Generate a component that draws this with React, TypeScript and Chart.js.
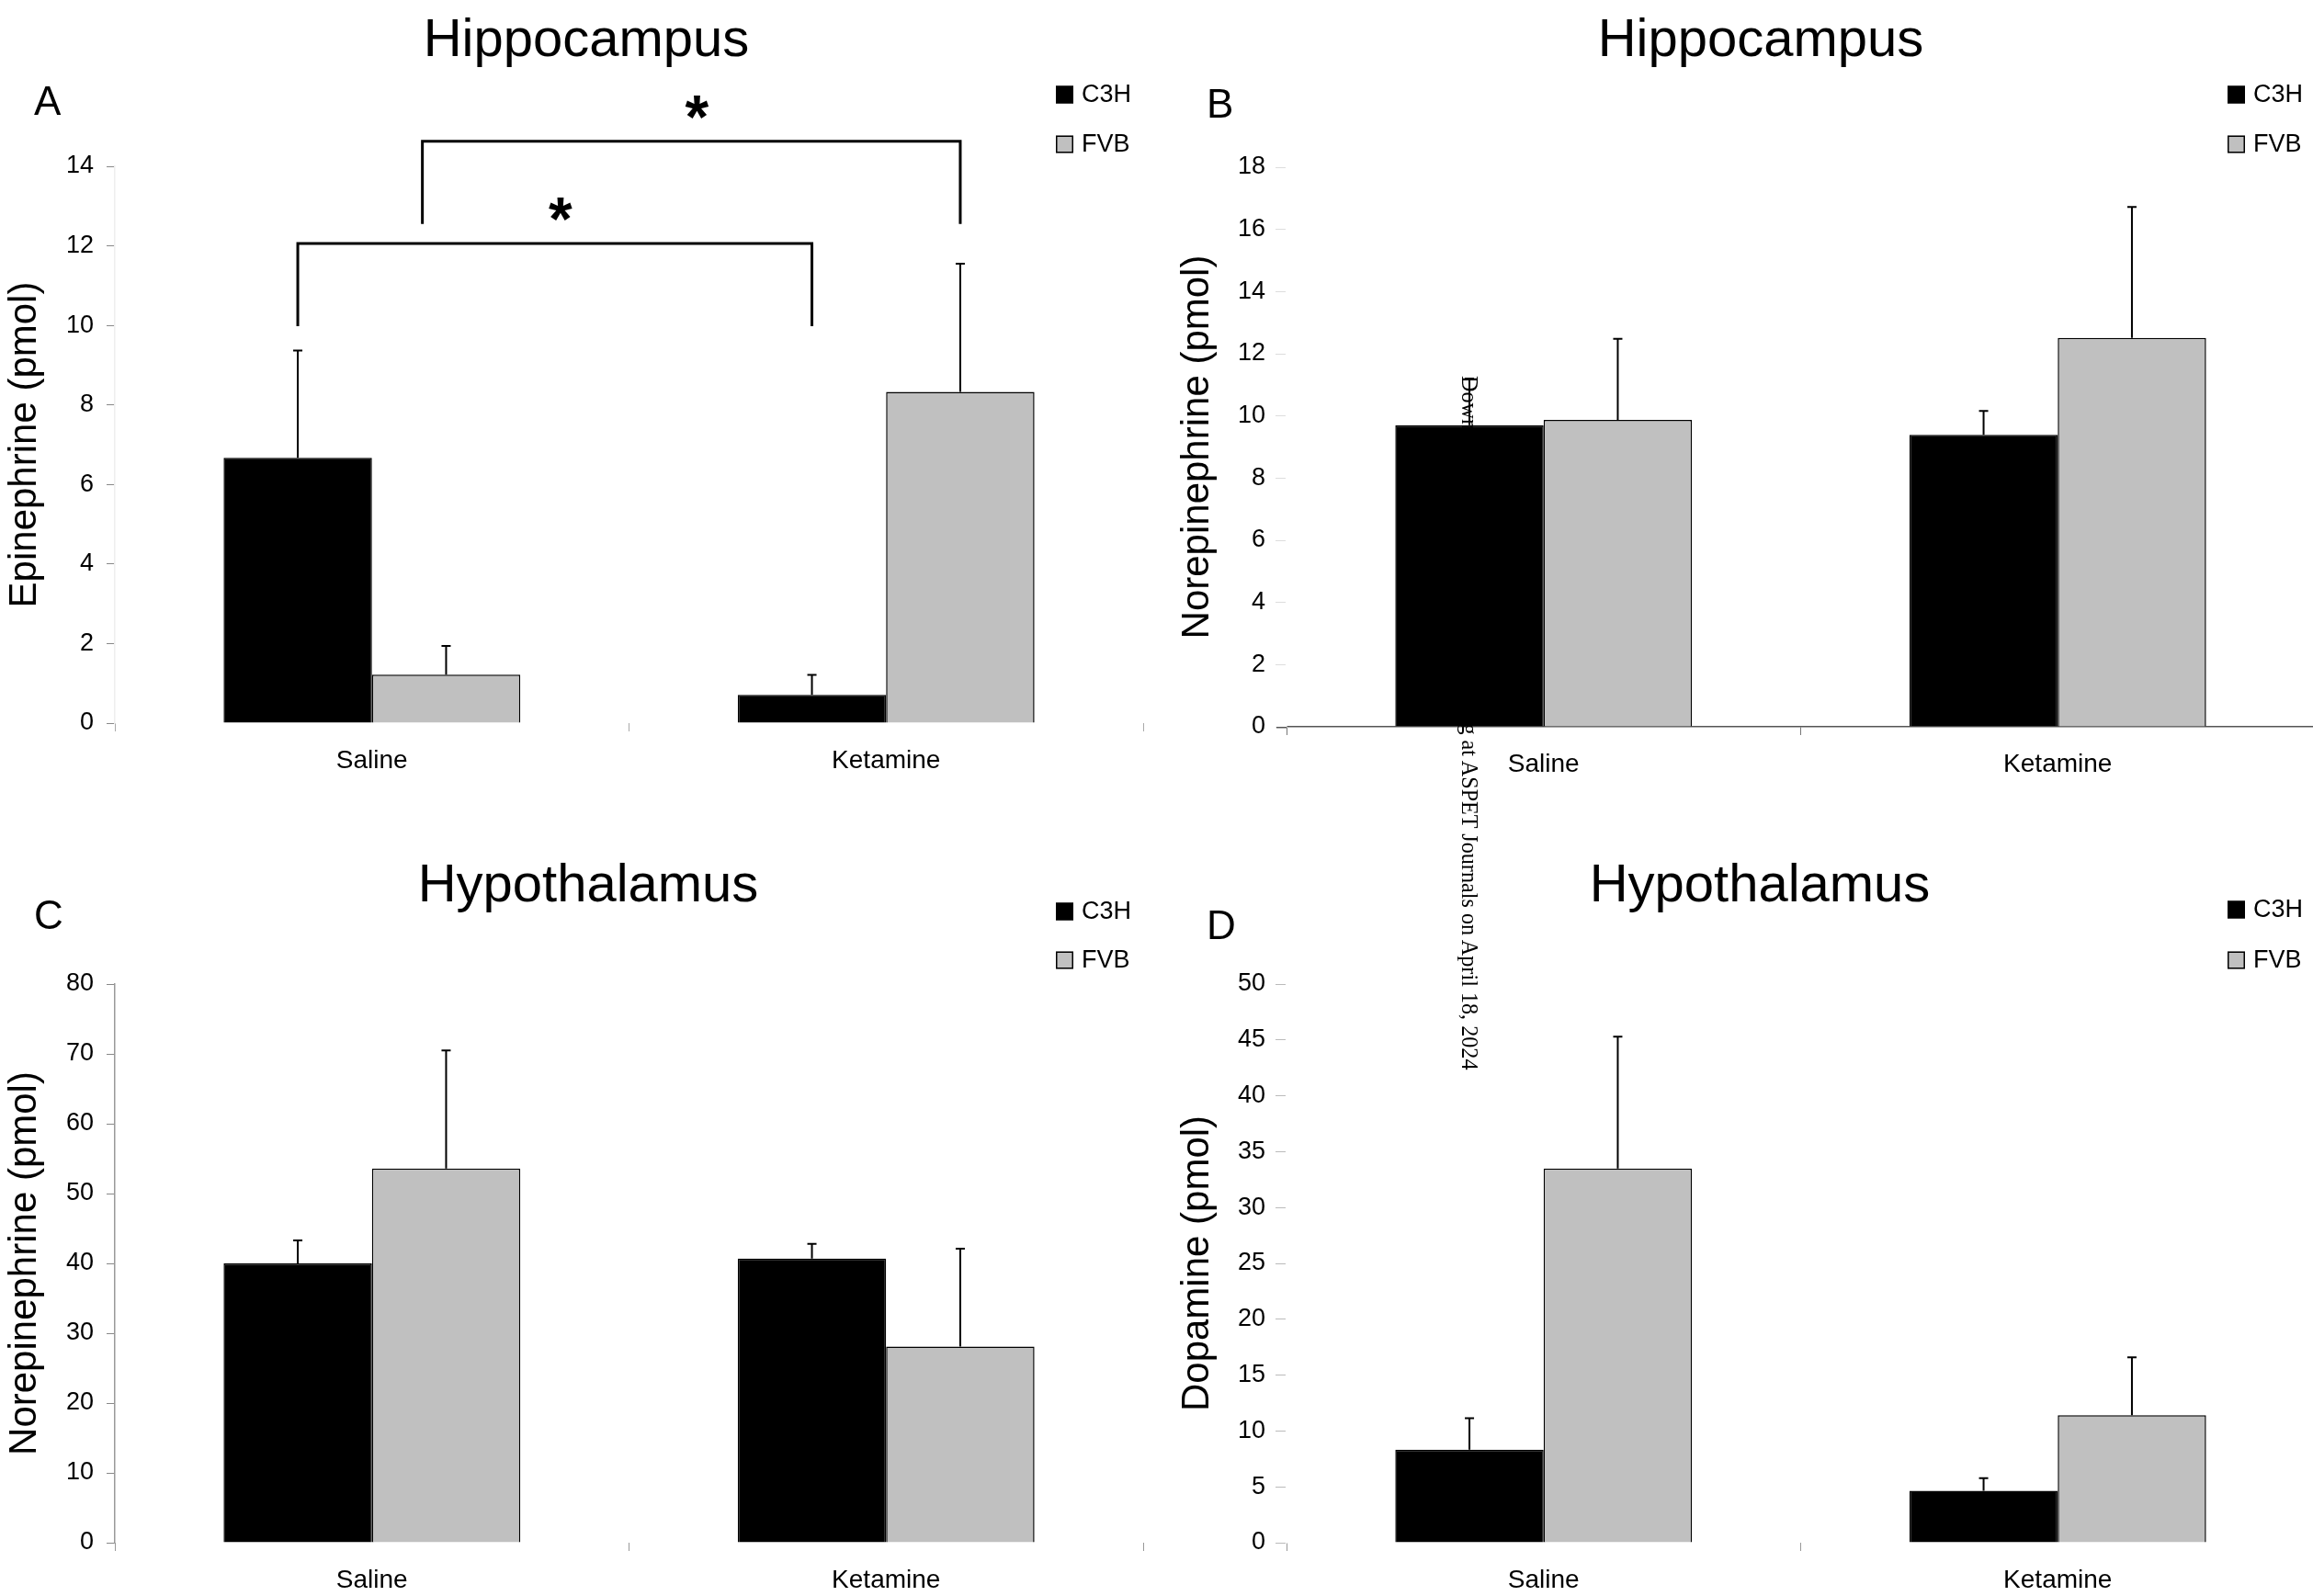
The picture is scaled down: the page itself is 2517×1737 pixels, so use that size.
import React, { useEffect, useRef } from 'react';
import { Chart, registerables } from 'chart.js';

Chart.register(...registerables);

// ---------- data ----------
const categories = ['Saline', 'Ketamine'];
const seriesNames = ['C3H', 'FVB'];

// A: Hippocampus, epinephrine (pmol)
const epiHippoC3H = [6.67, 0.71];
const epiHippoFVB = [1.22, 8.33];
const epiHippoC3HErr = [2.70, 0.50];
const epiHippoFVBErr = [0.72, 3.22];

// B: Hippocampus, norepinephrine (pmol)
const neHippoC3H = [9.70, 9.39];
const neHippoFVB = [9.87, 12.51];
const neHippoC3HErr = [1.50, 0.77];
const neHippoFVBErr = [2.61, 4.21];

// C: Hypothalamus, norepinephrine (pmol)
const neHypoC3H = [40.0, 40.7];
const neHypoFVB = [53.6, 28.1];
const neHypoC3HErr = [3.3, 2.1];
const neHypoFVBErr = [16.9, 14.0];

// D: Hypothalamus, dopamine (pmol)
const daHypoC3H = [8.32, 4.64];
const daHypoFVB = [33.5, 11.41];
const daHypoC3HErr = [2.82, 1.13];
const daHypoFVBErr = [11.8, 5.18];

// significance brackets (panel A): [categoryIndex, datasetIndex]
const sigFrom = [[0, 0], [0, 1]];
const sigTo = [[1, 0], [1, 1]];
const sigTop = [12.06, 14.63];
const sigDrop = [9.98, 12.55];
const sigStar = [12.93, 15.48];
const sigText = ['*', '*'];

const watermark = 'Downloaded from jpet.aspetjournals.org at ASPET Journals on April 18, 2024';

// ---------- styling ----------
const FONT = "'Liberation Sans', Arial, Helvetica, sans-serif";
const C3H_COLOR = '#000000';
const FVB_COLOR = '#c0c0c0';

type PanelCfg = {
  key: string; title: string; letter: string; yTitle: string;
  c3h: number[]; fvb: number[]; c3hErr: number[]; fvbErr: number[];
  yMax: number; yStep: number;
  left: number; top: number; width: number; height: number;
  area: { left: number; top: number; right: number; bottom: number };
  titleX: number; titleBase: number; letterX: number; letterBase: number;
  legendY: number[]; yTitlePad: number; tickLen: number; tickPad: number;
  yBorderColor: string; yTickColor: string; xBorder: boolean; xBorderColor: string; xTickColor: string;
  sig: boolean;
};

const panels: PanelCfg[] = [
  {
    key: 'A', title: 'Hippocampus', letter: 'A', yTitle: 'Epinephrine (pmol)',
    c3h: epiHippoC3H, fvb: epiHippoFVB, c3hErr: epiHippoC3HErr, fvbErr: epiHippoFVBErr,
    yMax: 14, yStep: 2,
    left: 0, top: 0, width: 1258, height: 870,
    area: { left: 125, top: 181, right: 1244, bottom: 787 },
    titleX: 638, titleBase: 61, letterX: 37, letterBase: 125,
    legendY: [103, 157], yTitlePad: 2, tickLen: 9, tickPad: 14,
    yBorderColor: '#eeeeee', yTickColor: '#888888', xBorder: false, xBorderColor: '#ffffff', xTickColor: '#aaaaaa',
    sig: true,
  },
  {
    key: 'B', title: 'Hippocampus', letter: 'B', yTitle: 'Norepinephrine (pmol)',
    c3h: neHippoC3H, fvb: neHippoFVB, c3hErr: neHippoC3HErr, fvbErr: neHippoFVBErr,
    yMax: 18, yStep: 2,
    left: 1258, top: 0, width: 1282, height: 870,
    area: { left: 142, top: 182, right: 1261, bottom: 791 },
    titleX: 658, titleBase: 61, letterX: 55, letterBase: 128,
    legendY: [103, 157], yTitlePad: 20, tickLen: 12, tickPad: 11,
    yBorderColor: '#ffffff', yTickColor: '#dddddd', xBorder: true, xBorderColor: '#555555', xTickColor: '#777777',
    sig: false,
  },
  {
    key: 'C', title: 'Hypothalamus', letter: 'C', yTitle: 'Norepinephrine (pmol)',
    c3h: neHypoC3H, fvb: neHypoFVB, c3hErr: neHypoC3HErr, fvbErr: neHypoFVBErr,
    yMax: 80, yStep: 10,
    left: 0, top: 870, width: 1258, height: 867,
    area: { left: 125, top: 201, right: 1244, bottom: 809 },
    titleX: 640, titleBase: 111, letterX: 37, letterBase: 141,
    legendY: [122, 175], yTitlePad: 2, tickLen: 9, tickPad: 14,
    yBorderColor: '#999999', yTickColor: '#888888', xBorder: false, xBorderColor: '#ffffff', xTickColor: '#999999',
    sig: false,
  },
  {
    key: 'D', title: 'Hypothalamus', letter: 'D', yTitle: 'Dopamine (pmol)',
    c3h: daHypoC3H, fvb: daHypoFVB, c3hErr: daHypoC3HErr, fvbErr: daHypoFVBErr,
    yMax: 50, yStep: 5,
    left: 1258, top: 870, width: 1282, height: 867,
    area: { left: 142, top: 201, right: 1261, bottom: 809 },
    titleX: 657, titleBase: 111, letterX: 55, letterBase: 152,
    legendY: [120, 175], yTitlePad: 20, tickLen: 12, tickPad: 11,
    yBorderColor: '#ffffff', yTickColor: '#bbbbbb', xBorder: false, xBorderColor: '#ffffff', xTickColor: '#999999',
    sig: false,
  },
];

function makeDecor(p: PanelCfg) {
  return {
    id: 'decor' + p.key,
    afterDatasetsDraw(chart: any) {
      const ctx = chart.ctx;
      const yS = chart.scales.y;
      ctx.save();
      ctx.strokeStyle = '#000';
      ctx.lineWidth = 2;
      chart.data.datasets.forEach((ds: any, di: number) => {
        const meta = chart.getDatasetMeta(di);
        meta.data.forEach((bar: any, i: number) => {
          const v = ds.data[i];
          const e = ds.errors[i];
          const yTop = yS.getPixelForValue(v + e);
          ctx.beginPath();
          ctx.moveTo(bar.x, bar.y);
          ctx.lineTo(bar.x, yTop);
          ctx.moveTo(bar.x - 5, yTop);
          ctx.lineTo(bar.x + 5, yTop);
          ctx.stroke();
        });
      });
      ctx.restore();
    },
    afterDraw(chart: any) {
      const ctx = chart.ctx;
      const yS = chart.scales.y;
      const area = chart.chartArea;
      ctx.save();
      // x axis line extends a little left of the plot (panel B)
      if (p.xBorder) {
        ctx.strokeStyle = p.xBorderColor;
        ctx.lineWidth = 1.5;
        ctx.beginPath();
        ctx.moveTo(area.left - 11, area.bottom + 0.75);
        ctx.lineTo(area.left, area.bottom + 0.75);
        ctx.stroke();
      }
      ctx.fillStyle = '#000';
      // title
      ctx.font = `58px ${FONT}`;
      ctx.textAlign = 'center';
      ctx.textBaseline = 'alphabetic';
      ctx.fillText(p.title, p.titleX, p.titleBase);
      // panel letter
      ctx.font = `44px ${FONT}`;
      ctx.textAlign = 'left';
      ctx.fillText(p.letter, p.letterX, p.letterBase);
      // legend
      const lx = area.right - 95;
      chart.data.datasets.forEach((ds: any, di: number) => {
        const cy = p.legendY[di];
        ctx.fillStyle = ds.backgroundColor;
        ctx.fillRect(lx, cy - 9.5, 19, 19);
        ctx.strokeStyle = '#000';
        ctx.lineWidth = 1.5;
        ctx.strokeRect(lx + 0.75, cy - 8.75, 17.5, 17.5);
        ctx.fillStyle = '#000';
        ctx.font = `27px ${FONT}`;
        ctx.textBaseline = 'middle';
        ctx.textAlign = 'left';
        ctx.fillText(ds.label, lx + 28, cy + 1);
      });
      // significance brackets
      if (p.sig) {
        ctx.strokeStyle = '#000';
        ctx.lineWidth = 3;
        for (let k = 0; k < sigFrom.length; k++) {
          const b1 = chart.getDatasetMeta(sigFrom[k][1]).data[sigFrom[k][0]];
          const b2 = chart.getDatasetMeta(sigTo[k][1]).data[sigTo[k][0]];
          const x1 = k === 1 ? b1.x - 0.16 * b1.width : b1.x;
          const x2 = b2.x;
          const yt = yS.getPixelForValue(sigTop[k]);
          const yd = yS.getPixelForValue(sigDrop[k]);
          ctx.beginPath();
          ctx.moveTo(x1, yd);
          ctx.lineTo(x1, yt);
          ctx.lineTo(x2, yt);
          ctx.lineTo(x2, yd);
          ctx.stroke();
          ctx.font = `bold 66px ${FONT}`;
          ctx.textAlign = 'center';
          ctx.textBaseline = 'alphabetic';
          const m = ctx.measureText(sigText[k]);
          const ys = yS.getPixelForValue(sigStar[k]);
          const base = ys + (m.actualBoundingBoxAscent - m.actualBoundingBoxDescent) / 2;
          ctx.fillText(sigText[k], (x1 + x2) / 2 + 6, base);
        }
      }
      ctx.restore();
    },
  };
}

function Panel({ p }: { p: PanelCfg }) {
  const ref = useRef<HTMLCanvasElement | null>(null);
  useEffect(() => {
    if (!ref.current) return;
    const chart = new Chart(ref.current, {
      type: 'bar',
      data: {
        labels: categories,
        datasets: [
          { label: seriesNames[0], data: p.c3h, errors: p.c3hErr, backgroundColor: C3H_COLOR, borderColor: '#000', borderWidth: 1.5 } as any,
          { label: seriesNames[1], data: p.fvb, errors: p.fvbErr, backgroundColor: FVB_COLOR, borderColor: '#000', borderWidth: 1.5 } as any,
        ],
      },
      options: {
        responsive: false,
        animation: false,
        events: [],
        layout: { padding: { left: 0, top: p.area.top, right: p.width - p.area.right, bottom: 0 } },
        plugins: { legend: { display: false }, title: { display: false }, tooltip: { enabled: false } },
        datasets: { bar: { categoryPercentage: 0.577, barPercentage: 1 } },
        scales: {
          x: {
            type: 'category',
            offset: true,
            grid: { display: true, drawOnChartArea: false, drawTicks: true, tickLength: 9, color: p.xTickColor, tickColor: p.xTickColor, offset: true },
            border: { display: p.xBorder, color: p.xBorderColor, width: 1.5 },
            ticks: { color: '#000', font: { family: FONT, size: 28 }, padding: 15, maxRotation: 0, autoSkip: false },
            afterFit: (s: any) => { s.height = p.height - p.area.bottom; },
          },
          y: {
            min: 0,
            max: p.yMax,
            ticks: { stepSize: p.yStep, color: '#000', font: { family: FONT, size: 27 }, padding: p.tickPad },
            grid: { display: true, drawOnChartArea: false, drawTicks: true, tickLength: p.tickLen, color: p.yTickColor, tickColor: p.yTickColor },
            border: { display: true, color: p.yBorderColor, width: 1.5 },
            title: { display: true, text: p.yTitle, color: '#000', font: { family: FONT, size: 42 }, padding: { top: p.yTitlePad, bottom: 0 } },
            afterFit: (s: any) => { s.width = p.area.left; },
          },
        },
      } as any,
      plugins: [makeDecor(p)],
    });
    return () => chart.destroy();
  }, [p]);
  return (
    <canvas
      ref={ref}
      width={p.width}
      height={p.height}
      style={{ position: 'absolute', left: p.left, top: p.top, width: p.width, height: p.height }}
    />
  );
}

export default function App() {
  useEffect(() => {
    document.body.style.overflow = 'hidden';
  }, []);
  return (
    <div style={{ position: 'absolute', left: 0, top: 0, width: 2517, height: 1737, overflow: 'hidden', background: '#fff' }}>
      {panels.map((p) => (
        <Panel key={p.key} p={p} />
      ))}
      <div
        style={{
          position: 'absolute', left: 1612, top: 409, transform: 'rotate(90deg)', transformOrigin: '0 0',
          fontFamily: "'Liberation Serif', 'Times New Roman', serif", fontSize: 24.2, lineHeight: '26px',
          whiteSpace: 'nowrap', color: '#000',
        }}
      >
        {watermark}
      </div>
    </div>
  );
}
